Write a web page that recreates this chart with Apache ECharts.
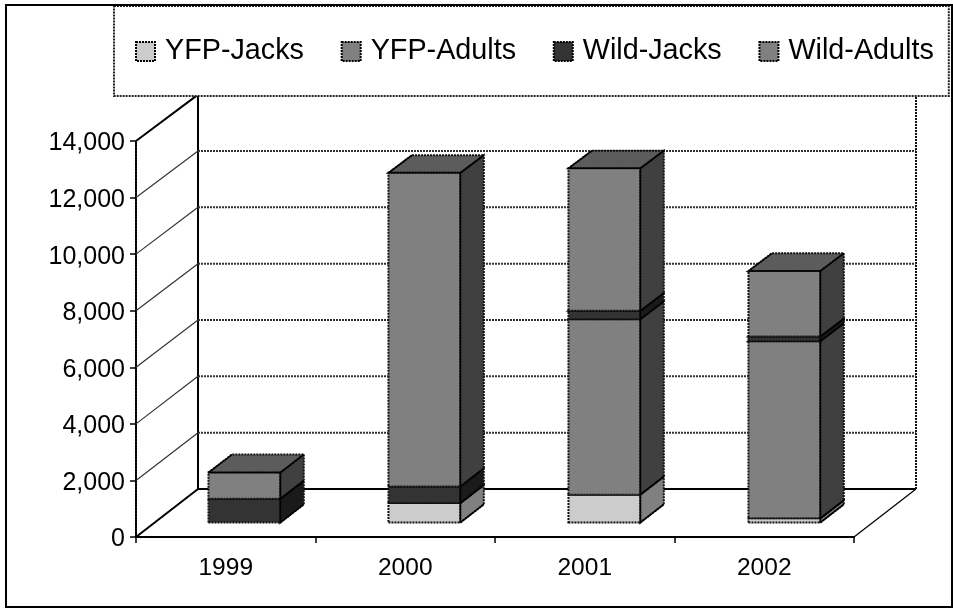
<!DOCTYPE html>
<html>
<head>
<meta charset="utf-8">
<style>html,body{margin:0;padding:0;background:#fff}#c{width:953px;height:608px}</style>
<script src="https://cdn.jsdelivr.net/npm/echarts@6/dist/echarts.min.js"></script>
</head>
<body>
<div id="c"></div>
<script>
const years = ['1999', '2000', '2001', '2002'];
const yfpJacks  = [0, 690, 990, 150];
const yfpAdults = [0, 0, 6210, 6270];
const wildJacks = [840, 590, 295, 165];
const wildAdults = [930, 11100, 5045, 2320];
const valueTicks = [0, 2000, 4000, 6000, 8000, 10000, 12000, 14000];

const names = ['YFP-Jacks', 'YFP-Adults', 'Wild-Jacks', 'Wild-Adults'];
const stacks = [yfpJacks, yfpAdults, wildJacks, wildAdults];
const fronts = ['#cccccc', '#808080', '#333333', '#808080'];
const sides  = ['#808080', '#404040', '#1a1a1a', '#404040'];
const tops   = ['#999999', '#606060', '#262626', '#5c5c5c'];

// Oblique projection of the value-axis plane into the box depth
const DX = 62, DY = 48, SHRINK = 0.0042;
const D0 = 0.3, D1 = 0.68;
const DOT = { stroke: '#111', lineWidth: 2, lineDash: [2, 1] };

function project(api, cat, v, d, xShift) {
  const p = api.coord([cat, v]);
  const base = api.coord([cat, 0]);
  const h = base[1] - p[1];
  return [p[0] + (xShift || 0) + DX * d, base[1] - DY * d - h * (1 - SHRINK * d)];
}

function wallItem(params, api) {
  const v = api.value(1);
  const band = api.size([1, 0])[0];
  const a = project(api, 0, v, 0, -band / 2);
  const b = project(api, 0, v, 1, -band / 2);
  const c = project(api, years.length - 1, v, 1, band / 2);
  const cf = project(api, years.length - 1, v, 0, band / 2);
  const zero = v === 0;
  const top = v === valueTicks[valueTicks.length - 1];
  const children = [];
  if (!top) {
    children.push({ type: 'line', shape: { x1: b[0], y1: b[1], x2: c[0], y2: c[1] },
      style: zero ? { stroke: '#000', lineWidth: 2 } : { stroke: '#333', lineWidth: 2, lineDash: [2, 1] } });
  }
  children.push({ type: 'line', shape: { x1: a[0], y1: a[1], x2: b[0], y2: b[1] },
    style: { stroke: zero || top ? '#000' : '#333', lineWidth: zero || top ? 2 : 1.2 } });
  if (zero) {
    children.push({ type: 'line', shape: { x1: cf[0], y1: cf[1], x2: c[0], y2: c[1] },
      style: { stroke: '#000', lineWidth: 1.2 } });
    const tb = project(api, 0, valueTicks[valueTicks.length - 1], 1, -band / 2);
    const tc = project(api, years.length - 1, valueTicks[valueTicks.length - 1], 1, band / 2);
    children.push({ type: 'line', shape: { x1: b[0], y1: b[1], x2: tb[0], y2: tb[1] },
      style: { stroke: '#000', lineWidth: 2 } });
    children.push({ type: 'line', shape: { x1: c[0], y1: c[1], x2: tc[0], y2: tc[1] }, style: DOT });
  }
  return { type: 'group', children };
}

function barItem(s) {
  return function (params, api) {
    const cat = api.value(0), lo = api.value(1), hi = api.value(2);
    if (hi <= lo) return null;
    const hw = api.size([1, 0])[0] * 0.2;
    const P = (x, v, d) => project(api, cat, v, d, x + cat * 0.5);
    const a = P(-hw, lo, D0), b = P(hw, lo, D0), c = P(hw, hi, D0), e = P(-hw, hi, D0);
    const b2 = P(hw, lo, D1), c2 = P(hw, hi, D1), e2 = P(-hw, hi, D1);
    const poly = (pts, fill) => ({ type: 'polygon', shape: { points: pts }, style: Object.assign({ fill }, DOT) });
    const seg = (p, q) => ({ type: 'line', shape: { x1: p[0], y1: p[1], x2: q[0], y2: q[1] },
      style: { stroke: '#000', lineWidth: 1.4 } });
    return { type: 'group', children: [
      poly([b, b2, c2, c], sides[s]),
      poly([e, c, c2, e2], tops[s]),
      poly([a, b, c, e], fronts[s]),
      seg(b, b2), seg(c, c2), seg(e, e2), seg(b, c), seg(e, c)
    ] };
  };
}

const series = [{
  name: 'walls', type: 'custom', silent: true, renderItem: wallItem,
  encode: { x: 0, y: 1 },
  data: valueTicks.map(v => [0, v])
}];
stacks.forEach((vals, s) => {
  series.push({
    name: names[s], type: 'custom', silent: true, renderItem: barItem(s),
    itemStyle: { color: fronts[s] },
    encode: { x: 0, y: [1, 2] },
    data: vals.map((v, i) => {
      let base = 0;
      for (let k = 0; k < s; k++) base += stacks[k][i];
      return [i, base, base + v];
    })
  });
});

const FONT = '"Liberation Sans", Arial, sans-serif';
const chart = echarts.init(document.getElementById('c'), null, { renderer: 'canvas' });
chart.setOption({
  animation: false,
  backgroundColor: '#fff',
  graphic: [{
    type: 'rect', z: 10, silent: true,
    shape: { x: 6, y: 5, width: 946, height: 602 },
    style: { fill: 'none', stroke: '#000', lineWidth: 2 }
  }],
  legend: {
    data: names, left: 114, top: 6, orient: 'horizontal', selectedMode: false,
    icon: 'rect', itemWidth: 19, itemHeight: 19, itemGap: 36.7,
    padding: [31, 15, 30, 21],
    backgroundColor: '#fff', borderColor: '#222', borderWidth: 2, borderType: [2, 1],
    itemStyle: { borderColor: '#000', borderWidth: 2, borderType: [2, 1] },
    textStyle: { fontFamily: FONT, fontSize: 28.75, color: '#000', padding: [0, 0, 0, 5] }
  },
  grid: { left: 136, right: 99, top: 141, bottom: 71, containLabel: false },
  xAxis: {
    type: 'category', data: years,
    axisLine: { lineStyle: { color: '#000', width: 2 } },
    axisTick: { show: true, alignWithLabel: false, length: 6, lineStyle: { color: '#000', width: 1.5 } },
    axisLabel: { fontFamily: FONT, fontSize: 24.5, color: '#000', margin: 19 },
    splitLine: { show: false }
  },
  yAxis: {
    type: 'value', min: valueTicks[0], max: valueTicks[valueTicks.length - 1], interval: 2000,
    axisLine: { show: true, lineStyle: { color: '#000', width: 2, type: [2, 1] } },
    axisTick: { show: true, length: 6, lineStyle: { color: '#000', width: 1.5 } },
    axisLabel: { color: '#000', margin: 11,
      formatter: v => '{n|' + v.toLocaleString('en-US') + '}',
      rich: { n: { fontFamily: FONT, fontSize: 25, color: '#000', padding: [5, 0, 0, 0] } } },
    splitLine: { show: false }
  },
  series
});
</script>
</body>
</html>
